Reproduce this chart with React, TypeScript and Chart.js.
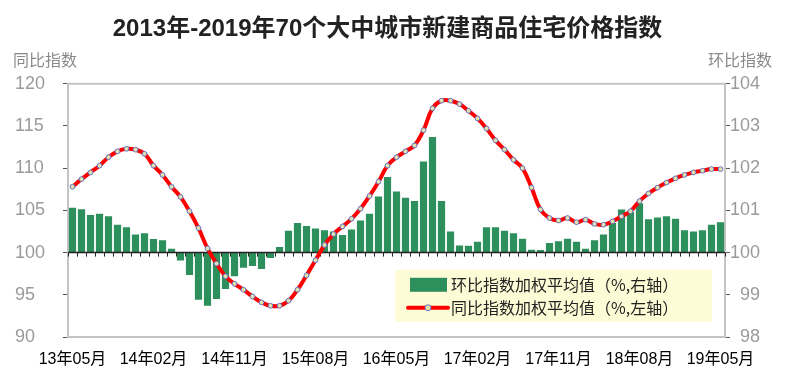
import { useEffect, useRef } from 'react';
import { Chart, registerables } from 'chart.js';

Chart.register(...registerables);

const TITLE = '2013年-2019年70个大中城市新建商品住宅价格指数';
const LEFT_AXIS_TITLE = '同比指数';
const RIGHT_AXIS_TITLE = '环比指数';
const MOM_LABEL = '环比指数加权平均值（%,右轴）';
const YOY_LABEL = '同比指数加权平均值（%,左轴）';

const MONTHS = [
  '13年05月', '13年06月', '13年07月', '13年08月', '13年09月', '13年10月', '13年11月', '13年12月',
  '14年01月', '14年02月', '14年03月', '14年04月', '14年05月', '14年06月', '14年07月', '14年08月', '14年09月', '14年10月', '14年11月', '14年12月',
  '15年01月', '15年02月', '15年03月', '15年04月', '15年05月', '15年06月', '15年07月', '15年08月', '15年09月', '15年10月', '15年11月', '15年12月',
  '16年01月', '16年02月', '16年03月', '16年04月', '16年05月', '16年06月', '16年07月', '16年08月', '16年09月', '16年10月', '16年11月', '16年12月',
  '17年01月', '17年02月', '17年03月', '17年04月', '17年05月', '17年06月', '17年07月', '17年08月', '17年09月', '17年10月', '17年11月', '17年12月',
  '18年01月', '18年02月', '18年03月', '18年04月', '18年05月', '18年06月', '18年07月', '18年08月', '18年09月', '18年10月', '18年11月', '18年12月',
  '19年01月', '19年02月', '19年03月', '19年04月', '19年05月',
];

const TICK_LABELS = ['13年05月', '14年02月', '14年11月', '15年08月', '16年05月', '17年02月', '17年11月', '18年08月', '19年05月'];

// 同比指数加权平均值 (left axis)
const YOY = [
  107.8, 108.7, 109.5, 110.3, 111.3, 112.0, 112.3, 112.2, 111.7, 110.3,
  109.2, 107.8, 106.6, 104.9, 102.9, 100.5, 98.7, 97.2, 96.3, 95.6,
  94.8, 94.1, 93.7, 93.7, 94.3, 95.6, 97.3, 99.1, 100.9, 102.2,
  103.1, 104.0, 105.2, 106.7, 108.4, 110.3, 111.3, 112.0, 112.7, 114.5,
  117.1, 118.0, 118.0, 117.6, 116.8, 115.9, 114.7, 113.3, 112.2, 111.0,
  110.0, 107.7, 105.1, 104.1, 103.8, 104.1, 103.6, 103.9, 103.4, 103.3,
  103.7, 104.3, 104.9, 106.1, 107.0, 107.7, 108.3, 108.8, 109.2, 109.5,
  109.7, 109.9, 109.9,
];

// 环比指数加权平均值 (right axis)
const MOM = [
  101.06, 101.03, 100.89, 100.92, 100.86, 100.66, 100.60, 100.43, 100.46, 100.32,
  100.29, 100.09, 99.81, 99.47, 98.88, 98.74, 98.90, 99.14, 99.44, 99.64,
  99.68, 99.61, 99.87, 100.13, 100.52, 100.70, 100.63, 100.57, 100.53, 100.50,
  100.42, 100.55, 100.76, 100.92, 101.33, 101.79, 101.45, 101.30, 101.22, 102.16,
  102.74, 101.22, 100.50, 100.17, 100.16, 100.26, 100.60, 100.60, 100.52, 100.46,
  100.33, 100.07, 100.06, 100.23, 100.27, 100.33, 100.26, 100.09, 100.29, 100.43,
  100.70, 101.02, 100.96, 101.17, 100.79, 100.83, 100.86, 100.80, 100.53, 100.50,
  100.53, 100.66, 100.72,
];

const LEFT_MIN = 90;
const LEFT_MAX = 120;
const LEFT_STEP = 5;
const RIGHT_MIN = 98;
const RIGHT_MAX = 104;
const RIGHT_STEP = 1;
const BASE_VALUE = 100;

const CJK = '"Noto Sans CJK SC"';
const MIXED = '"Liberation Sans", "Noto Sans CJK SC", sans-serif';

const GREEN = '#2d8f5c';
const RED = '#ff0000';

const decorPlugin = {
  id: 'decor',
  beforeDatasetsDraw(chart: any) {
    const { ctx, chartArea } = chart;
    ctx.save();
    ctx.strokeStyle = '#c4c4c4';
    ctx.lineWidth = 2;
    ctx.strokeRect(chartArea.left, chartArea.top, chartArea.right - chartArea.left, chartArea.bottom - chartArea.top);
    ctx.restore();
  },
  afterDatasetDraw(chart: any, args: any) {
    if (args.index !== 1) return;
    const { ctx, chartArea, scales } = chart;
    const y = scales.y.getPixelForValue(BASE_VALUE);
    const n = chart.data.labels.length;
    ctx.save();
    ctx.strokeStyle = '#222';
    ctx.lineWidth = 1.5;
    ctx.beginPath();
    ctx.moveTo(chartArea.left, y);
    ctx.lineTo(chartArea.right, y);
    ctx.stroke();
    ctx.lineWidth = 1;
    ctx.beginPath();
    for (let i = 0; i <= n; i++) {
      let x;
      if (i === 0) x = chartArea.left;
      else if (i === n) x = chartArea.right;
      else x = (scales.x.getPixelForValue(i - 1) + scales.x.getPixelForValue(i)) / 2;
      x = Math.round(x) + 0.5;
      ctx.moveTo(x, y);
      ctx.lineTo(x, y + 4);
    }
    ctx.stroke();
    ctx.restore();
  },
  afterDraw(chart: any) {
    const { ctx, chartArea } = chart;
    ctx.save();
    // axis titles
    ctx.fillStyle = '#8a8a8a';
    ctx.font = `16px ${CJK}`;
    ctx.textBaseline = 'middle';
    ctx.textAlign = 'left';
    ctx.fillText(LEFT_AXIS_TITLE, 13, 60);
    ctx.textAlign = 'right';
    ctx.fillText(RIGHT_AXIS_TITLE, 772, 60);

    // legend
    const bx = chartArea.left + 327;
    const by = chartArea.top + 186;
    const bw = 317;
    const bh = 52;
    ctx.fillStyle = '#fdfcd6';
    ctx.fillRect(bx, by, bw, bh);
    const ds = chart.data.datasets;
    const barDs = ds[1];
    const lineDs = ds[0];
    // bar sample
    ctx.fillStyle = barDs.backgroundColor;
    ctx.fillRect(bx + 15, by + 8, 37, 14);
    // line sample
    const ly = by + 38;
    ctx.strokeStyle = lineDs.borderColor;
    ctx.lineWidth = 4;
    ctx.lineCap = 'round';
    ctx.beginPath();
    ctx.moveTo(bx + 13, ly);
    ctx.lineTo(bx + 53, ly);
    ctx.stroke();
    ctx.beginPath();
    ctx.arc(bx + 33, ly, 3, 0, Math.PI * 2);
    ctx.fillStyle = lineDs.pointBackgroundColor;
    ctx.fill();
    ctx.lineWidth = 1;
    ctx.strokeStyle = lineDs.pointBorderColor;
    ctx.stroke();
    // texts
    ctx.fillStyle = '#222';
    ctx.font = `16px ${CJK}`;
    ctx.textAlign = 'left';
    ctx.textBaseline = 'middle';
    ctx.fillText(barDs.label, bx + 56, by + 15);
    ctx.fillText(lineDs.label, bx + 56, ly);
    ctx.restore();
  },
};

export default function App() {
  const canvasRef = useRef<HTMLCanvasElement | null>(null);

  useEffect(() => {
    const canvas = canvasRef.current;
    if (!canvas) return;
    const chart = new Chart(canvas, {
      type: 'bar',
      data: {
        labels: MONTHS,
        datasets: [
          {
            type: 'line',
            label: YOY_LABEL,
            data: YOY,
            yAxisID: 'y',
            borderColor: RED,
            borderWidth: 4,
            tension: 0.4,
            pointRadius: 2.4,
            pointBorderWidth: 1,
            pointBackgroundColor: '#e2e2a8',
            pointBorderColor: '#6674c8',
            fill: false,
          } as any,
          {
            type: 'bar',
            label: MOM_LABEL,
            data: MOM.map((v) => [BASE_VALUE, v]),
            yAxisID: 'y1',
            backgroundColor: GREEN,
            borderWidth: 0,
            barPercentage: 0.8,
            categoryPercentage: 1,
          } as any,
        ],
      },
      options: {
        responsive: false,
        animation: false,
        layout: { padding: { left: 15, right: 39, top: 0, bottom: 0 } },
        plugins: {
          legend: { display: false },
          tooltip: { enabled: false },
          title: {
            display: true,
            text: TITLE,
            color: '#222',
            font: { size: 24, weight: 'bold', family: MIXED },
            padding: { top: 15, bottom: 40 },
          },
        },
        scales: {
          x: {
            type: 'category',
            offset: true,
            grid: { display: false, drawTicks: false },
            border: { display: false },
            ticks: {
              autoSkip: false,
              maxRotation: 0,
              minRotation: 0,
              padding: 13,
              color: '#000',
              font: { size: 16, family: MIXED },
              callback: (_v: any, i: number) => (TICK_LABELS.includes(MONTHS[i]) ? MONTHS[i] : ''),
            },
            afterFit: (s: any) => {
              s.height = 39;
            },
          },
          y: {
            position: 'left',
            min: LEFT_MIN,
            max: LEFT_MAX,
            ticks: {
              stepSize: LEFT_STEP,
              color: '#9a9a9a',
              crossAlign: 'far',
              font: { size: 18, family: MIXED },
            },
            grid: { drawOnChartArea: false, drawTicks: true, tickLength: 5, color: '#555' },
            border: { display: true, color: '#555', width: 1.5 },
            afterFit: (s: any) => {
              s.width = 53;
            },
          },
          y1: {
            position: 'right',
            min: RIGHT_MIN,
            max: RIGHT_MAX,
            ticks: {
              stepSize: RIGHT_STEP,
              color: '#9a9a9a',
              crossAlign: 'far',
              font: { size: 18, family: MIXED },
            },
            grid: { drawOnChartArea: false, drawTicks: true, tickLength: 5, color: '#555' },
            border: { display: true, color: '#555', width: 1.5 },
            afterFit: (s: any) => {
              s.width = 35;
            },
          },
        },
      } as any,
      plugins: [decorPlugin],
    });
    return () => chart.destroy();
  }, []);

  return (
    <div style={{ position: 'fixed', left: 0, top: 0, width: 799, height: 376, background: '#fff' }}>
      <canvas ref={canvasRef} width={799} height={376} style={{ display: 'block' }} />
    </div>
  );
}
